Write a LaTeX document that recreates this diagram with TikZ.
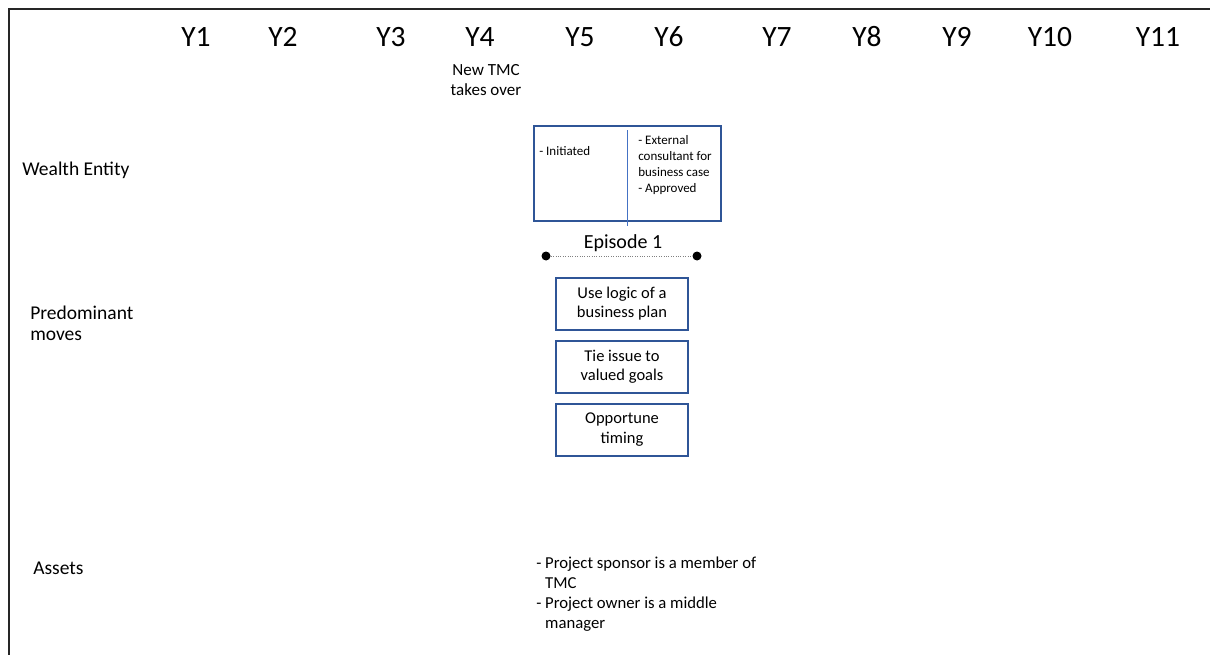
\documentclass[tikz,border=0pt]{standalone}
\usepackage{fontspec}
\setmainfont{Carlito}
\usepackage{tikz}
\usetikzlibrary{positioning}
\definecolor{boxblue}{RGB}{47,85,151}
\definecolor{lineblue}{RGB}{68,114,196}

\begin{document}
\begin{tikzpicture}[x=1pt,y=-1pt,semithick,
                    yearlab/.style={font=\fontsize{29.5}{32}\selectfont,anchor=base,inner sep=0pt},
                    rowlab/.style={font=\fontsize{19.5}{21}\selectfont,anchor=base west,align=left,inner sep=0pt},
                    note/.style={font=\fontsize{17}{20.5}\selectfont,align=center,anchor=base,inner sep=0pt},
                    epbox/.style={draw=boxblue,line width=2pt,minimum width=187pt,minimum height=95pt,inner sep=0pt},
                    eptext/.style={font=\fontsize{13}{16}\selectfont,align=left,anchor=base west,inner sep=0pt},
                    dot/.style={circle,fill=black,inner sep=0pt,minimum size=9pt},
                    movebox/.style={draw=boxblue,line width=2pt,minimum width=132pt,minimum height=52pt,
                                    align=center,inner sep=2pt,font=\fontsize{16.5}{19.5}\selectfont},
                    assetlist/.style={font=\fontsize{16.7}{20}\selectfont,align=left,anchor=base west,inner sep=0pt}]
  \useasboundingbox (0,0) rectangle (1210,655);
%  frame
  \draw[line width=2pt,black!85] (1210,9) -- (9,9) -- (9,655);

  \foreach \n/\x in {1/196,2/283,3/391,4/480,5/580,6/669,7/777,8/867,9/957,10/1050,11/1158}
    \node[yearlab] (y\n) at (\x,47) {Y\n};
%  base of a multi-line node is its last line
  \node[note]     (tmc)    at (486,96)  {New TMC\\takes over};

  \node[rowlab]   (wealth) at (22,176)  {Wealth Entity};
  \node[rowlab]   (moves)  at (30,340)  {Predominant\\moves};
  \node[rowlab]   (assets) at (33,574)  {Assets};

  \node[epbox]    (ep1)    at (627,174) {};
  \node[eptext]   (init)   at (539,156) {- Initiated};
  \node[eptext]   (appr)   at (638,193) {- External\\consultant for\\business case\\- Approved};
  \draw[lineblue,line width=1pt] ([yshift=-5pt]ep1.north) -- ([yshift=-4pt]ep1.south);

  \node[font=\fontsize{20}{24}\selectfont,anchor=base] (eplab) at (623,248) {Episode 1};
  \node[dot]      (dotl)   at (546,256) {};
  \node[dot]      (dotr)   at (697,256) {};
  \path (dotl) edge[dotted,gray,thin] (dotr);

  \node[movebox]  (plan)   at (622,303.5)        {Use logic of a\\business plan};
  \node[movebox]  (goals)  [below=9pt of plan]   {Tie issue to\\valued goals};
  \node[movebox]  (timing) [below=9pt of goals]  {Opportune\\timing};

  \node[assetlist] (owner) at (536,628) {- Project sponsor is a member of\\\phantom{- }TMC\\- Project owner is a middle\\\phantom{- }manager};
\end{tikzpicture}
\end{document}
